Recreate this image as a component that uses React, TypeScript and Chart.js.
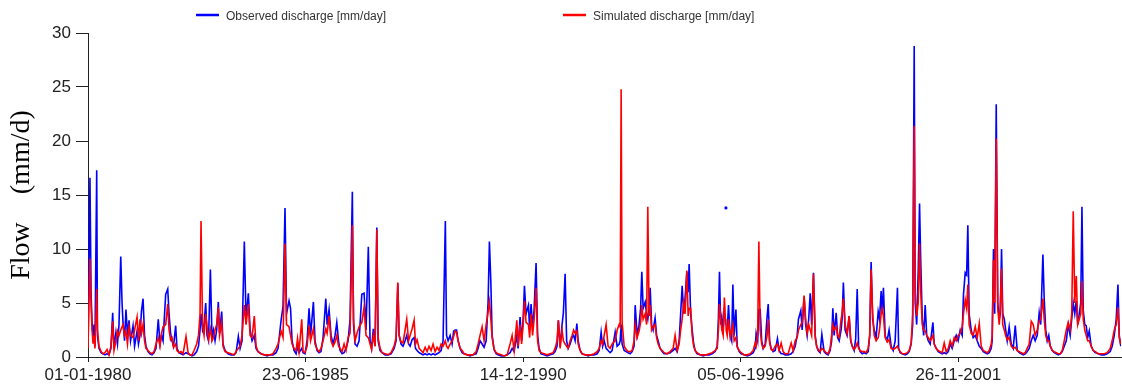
import React, { useEffect, useRef } from "react";
import { Chart, registerables } from "chart.js";

Chart.register(...registerables);

// ---- data (day index since 01-01-1980, daily discharge in mm/day) ----
const startDate = Date.UTC(1980, 0, 1);
const lastDay = 9496; // 31-12-2005
const xTickDays = [0, 2000, 4000, 6000, 8000];
const yMin = 0;
const yMax = 30;
const yStep = 5;

const seriesLabels = ["Observed discharge [mm/day]", "Simulated discharge [mm/day]"];
const yAxisTitle = "Flow    (mm/d)";

const days = [
  0, 18, 28, 37, 46, 55, 64, 80, 87, 101,
  120, 138, 156, 175, 193, 211, 227, 239, 257, 271,
  285, 301, 313, 322, 336, 349, 363, 377, 391, 414,
  428, 451, 464, 478, 492, 506, 520, 533, 552, 570,
  588, 607, 625, 646, 662, 676, 690, 714, 733, 745,
  759, 772, 786, 806, 818, 837, 855, 874, 901, 920,
  938, 956, 975, 999, 1016, 1030, 1039, 1053, 1067, 1082,
  1094, 1108, 1125, 1140, 1154, 1168, 1183, 1198, 1209, 1229,
  1241, 1260, 1287, 1315, 1342, 1361, 1382, 1398, 1416, 1437,
  1453, 1474, 1490, 1508, 1529, 1545, 1563, 1591, 1618, 1646,
  1673, 1701, 1729, 1747, 1775, 1793, 1811, 1825, 1848, 1862,
  1876, 1894, 1913, 1926, 1940, 1965, 1977, 1995, 2014, 2032,
  2046, 2072, 2087, 2106, 2124, 2142, 2161, 2186, 2198, 2216,
  2234, 2253, 2271, 2287, 2303, 2317, 2336, 2354, 2372, 2391,
  2409, 2430, 2441, 2455, 2473, 2492, 2517, 2538, 2556, 2577,
  2593, 2607, 2623, 2639, 2655, 2667, 2685, 2703, 2731, 2759,
  2786, 2814, 2832, 2848, 2860, 2878, 2896, 2915, 2930, 2947,
  2961, 2979, 2998, 3011, 3025, 3044, 3062, 3080, 3099, 3117,
  3135, 3154, 3172, 3191, 3209, 3227, 3246, 3264, 3285, 3296,
  3310, 3329, 3347, 3361, 3375, 3388, 3402, 3421, 3439, 3457,
  3485, 3512, 3540, 3568, 3586, 3604, 3623, 3641, 3660, 3678,
  3690, 3703, 3715, 3733, 3752, 3770, 3798, 3825, 3853, 3880,
  3899, 3917, 3942, 3954, 3972, 3986, 4000, 4012, 4027, 4049,
  4060, 4073, 4087, 4101, 4119, 4133, 4147, 4165, 4193, 4220,
  4248, 4276, 4294, 4312, 4324, 4340, 4358, 4370, 4386, 4400,
  4414, 4432, 4450, 4464, 4478, 4494, 4506, 4524, 4542, 4570,
  4598, 4625, 4653, 4680, 4699, 4717, 4731, 4745, 4763, 4781,
  4800, 4818, 4846, 4864, 4883, 4892, 4901, 4910, 4929, 4947,
  4965, 4984, 5002, 5020, 5030, 5048, 5066, 5080, 5091, 5103,
  5122, 5135, 5146, 5158, 5168, 5181, 5195, 5213, 5227, 5241,
  5259, 5278, 5296, 5324, 5351, 5379, 5397, 5416, 5434, 5448,
  5462, 5476, 5489, 5505, 5517, 5526, 5540, 5554, 5568, 5581,
  5600, 5627, 5655, 5683, 5710, 5738, 5765, 5784, 5795, 5805,
  5816, 5827, 5839, 5850, 5862, 5864, 5866, 5876, 5888, 5903,
  5917, 5928, 5940, 5956, 5968, 5986, 6004, 6032, 6060, 6087,
  6115, 6133, 6142, 6156, 6167, 6179, 6193, 6207, 6225, 6243,
  6253, 6266, 6280, 6298, 6317, 6338, 6353, 6372, 6390, 6408,
  6436, 6464, 6482, 6501, 6519, 6531, 6553, 6565, 6583, 6597,
  6611, 6625, 6639, 6652, 6669, 6685, 6698, 6712, 6730, 6746,
  6767, 6786, 6804, 6822, 6836, 6847, 6859, 6878, 6891, 6905,
  6923, 6932, 6944, 6960, 6978, 6997, 7011, 7025, 7043, 7057,
  7071, 7084, 7098, 7117, 7135, 7153, 7172, 7186, 7199, 7213,
  7227, 7245, 7264, 7276, 7291, 7300, 7312, 7328, 7346, 7364,
  7383, 7402, 7420, 7441, 7452, 7466, 7485, 7512, 7531, 7549,
  7567, 7581, 7595, 7604, 7618, 7632, 7644, 7655, 7669, 7682,
  7696, 7710, 7724, 7742, 7767, 7779, 7797, 7816, 7834, 7852,
  7871, 7889, 7908, 7926, 7944, 7963, 7981, 7999, 8018, 8036,
  8048, 8064, 8077, 8088, 8100, 8119, 8137, 8156, 8174, 8193,
  8211, 8230, 8248, 8266, 8285, 8303, 8312, 8324, 8335, 8349,
  8363, 8377, 8386, 8398, 8409, 8423, 8436, 8450, 8468, 8487,
  8505, 8524, 8542, 8561, 8579, 8597, 8616, 8634, 8652, 8671,
  8689, 8707, 8726, 8744, 8758, 8778, 8790, 8804, 8818, 8832,
  8846, 8864, 8882, 8901, 8919, 8938, 8956, 8974, 8993, 9011,
  9029, 9043, 9057, 9071, 9085, 9098, 9112, 9126, 9137, 9149,
  9163, 9176, 9190, 9204, 9222, 9241, 9259, 9287, 9314, 9342,
  9369, 9397, 9415, 9434, 9452, 9468, 9480, 9494,
];

const observed: (number | null)[] = [
  1.0, 16.6, 6.0, 3.2, 2.0, 3.0, 1.0, 17.3, 2.0, 0.8,
  0.4, 0.3, 0.2, 0.3, 0.2, 0.8, 4.1, 0.8, 2.3, 1.2,
  3.0, 9.3, 5.0, 3.2, 1.5, 4.4, 2.0, 3.4, 1.5, 2.9,
  1.0, 2.4, 1.2, 2.0, 4.3, 5.4, 2.0, 1.0, 0.5, 0.3,
  0.2, 0.4, 0.8, 3.5, 1.2, 2.0, 1.5, 5.8, 6.3, 4.0,
  2.2, 1.5, 1.0, 2.9, 0.8, 0.4, 0.3, 0.2, 0.4, 0.3,
  0.2, 0.1, 0.2, 0.5, 1.0, 2.5, 4.0, 2.5, 3.0, 5.0,
  2.0, 1.5, 8.1, 1.8, 2.5, 1.5, 2.5, 5.1, 2.2, 4.2,
  1.2, 0.6, 0.3, 0.2, 0.2, 0.4, 1.9, 0.8, 1.5, 10.7,
  3.5, 5.9, 2.5, 1.5, 2.0, 0.8, 0.5, 0.3, 0.2, 0.1,
  0.2, 0.2, 0.4, 0.8, 3.4, 4.7, 13.8, 4.0, 5.2, 4.5,
  1.5, 0.6, 0.3, 1.0, 0.4, 0.8, 0.4, 0.3, 1.5, 4.5,
  2.0, 5.1, 1.5, 0.6, 0.4, 0.5, 1.8, 5.4, 3.0, 4.4,
  2.0, 1.2, 2.0, 3.2, 1.5, 0.6, 0.3, 0.4, 0.8, 1.5,
  3.5, 15.3, 3.0, 1.2, 1.0, 1.5, 5.8, 5.9, 2.5, 10.2,
  1.5, 0.8, 2.6, 1.0, 12.0, 1.5, 0.6, 0.4, 0.2, 0.2,
  0.3, 0.8, 1.5, 6.8, 2.0, 1.2, 1.0, 1.5, 2.0, 1.2,
  1.0, 1.6, 1.8, 0.8, 0.6, 0.4, 0.3, 0.2, 0.3, 0.2,
  0.3, 0.2, 0.3, 0.2, 0.3, 0.4, 0.6, 1.5, 12.6, 2.0,
  1.5, 2.0, 1.2, 2.4, 2.5, 2.5, 1.5, 0.8, 0.4, 0.3,
  0.2, 0.1, 0.2, 0.3, 0.8, 1.5, 1.2, 0.9, 1.5, 5.1,
  10.7, 7.0, 2.0, 0.7, 0.3, 0.2, 0.1, 0.1, 0.2, 0.4,
  0.8, 0.5, 2.0, 0.8, 3.7, 1.5, 3.5, 6.6, 4.0, 4.8,
  2.5, 4.9, 2.8, 4.4, 8.7, 2.0, 0.8, 0.3, 0.2, 0.1,
  0.2, 0.3, 0.5, 1.0, 3.4, 1.0, 3.0, 4.1, 7.7, 1.5,
  0.8, 1.2, 1.8, 2.0, 1.5, 3.1, 1.5, 0.6, 0.3, 0.2,
  0.1, 0.2, 0.2, 0.3, 0.6, 2.3, 1.0, 1.5, 0.8, 0.6,
  0.4, 0.6, 2.3, 1.0, 1.2, 1.5, 3.0, 1.2, 0.6, 0.5,
  0.4, 0.3, 0.5, 1.0, 4.8, 2.0, 3.0, 4.5, 7.9, 4.5,
  5.1, 4.0, 3.5, 4.5, 6.4, 3.0, 2.5, 3.6, 2.0, 1.5,
  0.8, 0.5, 0.3, 0.3, 0.4, 0.6, 0.8, 0.5, 1.5, 4.0,
  6.6, 4.0, 5.5, 7.9, 6.0, 8.6, 4.0, 2.5, 1.2, 0.6,
  0.3, 0.2, 0.1, 0.2, 0.2, 0.3, 0.5, 1.0, 3.5, 7.9,
  3.0, 3.7, 2.5, 4.6, null, 13.8, null, 2.5, 4.8, 2.0,
  1.5, 6.7, 2.0, 4.4, 1.0, 0.5, 0.3, 0.2, 0.1, 0.2,
  0.4, 0.8, 2.2, 1.5, 4.4, 4.4, 1.5, 0.8, 1.2, 3.8,
  4.9, 1.5, 0.8, 0.5, 0.6, 1.7, 0.6, 0.3, 0.3, 0.2,
  0.2, 0.3, 0.5, 1.0, 2.0, 3.5, 4.3, 2.5, 5.6, 3.0,
  2.0, 3.5, 5.9, 3.0, 7.8, 2.0, 1.0, 0.6, 0.4, 2.1,
  0.5, 0.3, 0.2, 0.6, 1.5, 4.5, 2.0, 4.1, 1.8, 1.5,
  2.5, 3.5, 6.9, 2.5, 2.0, 3.8, 1.5, 1.0, 0.6, 1.7,
  6.3, 1.0, 0.5, 0.3, 0.4, 0.3, 0.5, 2.0, 8.8, 3.5,
  2.5, 1.8, 4.2, 3.5, 6.1, 4.0, 6.4, 2.0, 1.5, 2.5,
  1.0, 0.6, 1.5, 6.4, 0.8, 0.4, 0.3, 0.2, 0.3, 0.5,
  1.2, 3.0, 28.8, 5.0, 3.0, 8.0, 14.2, 8.9, 3.5, 2.0,
  4.8, 2.0, 1.5, 1.2, 3.2, 1.2, 0.8, 0.5, 0.4, 0.3,
  0.4, 0.3, 0.5, 1.2, 0.8, 1.5, 2.0, 1.5, 2.5, 2.0,
  5.8, 7.8, 7.6, 12.2, 4.0, 2.5, 1.8, 2.0, 1.5, 1.0,
  0.8, 0.5, 0.4, 0.3, 0.4, 0.8, 1.5, 10.0, 4.0, 23.4,
  5.0, 3.5, 4.0, 10.0, 4.0, 3.5, 2.5, 1.5, 2.8, 1.2,
  0.8, 2.9, 0.6, 0.4, 0.3, 0.2, 0.3, 0.5, 0.8, 1.5,
  2.0, 1.5, 2.0, 4.1, 3.0, 9.5, 5.4, 2.5, 1.5, 2.0,
  1.0, 0.6, 0.4, 0.3, 0.2, 0.3, 0.5, 1.0, 1.5, 3.0,
  2.0, 3.5, 5.0, 4.0, 5.2, 3.0, 4.0, 5.0, 13.9, 4.3,
  3.0, 2.9, 1.8, 2.4, 1.0, 0.6, 0.4, 0.3, 0.2, 0.2,
  0.3, 0.5, 1.0, 2.0, 3.5, 6.7, 2.0, 1.0,
];

const simulated: number[] = [
  0.8, 9.1, 5.0, 2.5, 1.3, 2.0, 0.8, 6.3, 2.5, 1.0,
  0.5, 0.3, 0.4, 0.7, 0.2, 1.0, 3.3, 0.6, 1.5, 2.4,
  2.0, 2.5, 2.8, 3.0, 2.0, 2.4, 1.2, 2.8, 2.0, 1.8,
  2.5, 3.7, 1.5, 3.5, 2.2, 3.0, 1.5, 0.8, 0.6, 0.4,
  0.3, 0.5, 1.2, 1.8, 1.0, 2.2, 2.8, 3.0, 4.9, 2.5,
  1.6, 1.8, 0.9, 1.2, 0.6, 0.4, 0.5, 0.3, 1.9, 0.4,
  0.2, 0.2, 0.6, 1.2, 2.0, 4.0, 12.6, 3.0, 2.0, 4.0,
  2.8, 1.6, 2.6, 1.5, 1.8, 2.5, 3.0, 4.6, 2.0, 3.2,
  1.0, 0.5, 0.4, 0.3, 0.2, 0.5, 0.8, 1.0, 2.0, 4.8,
  3.0, 4.9, 2.0, 1.8, 3.8, 1.0, 0.5, 0.3, 0.2, 0.2,
  0.2, 0.3, 0.8, 1.2, 2.4, 1.8, 10.5, 3.0, 2.8, 2.0,
  1.2, 0.8, 0.6, 1.7, 0.5, 3.5, 0.5, 0.4, 1.0, 2.9,
  1.5, 2.6, 1.2, 0.7, 0.5, 0.8, 1.5, 2.6, 2.2, 3.8,
  1.5, 1.0, 1.4, 2.0, 1.0, 0.8, 0.5, 1.2, 0.6, 1.8,
  2.2, 12.2, 3.5, 1.5, 2.2, 2.8, 3.2, 4.6, 2.0, 1.8,
  1.2, 0.7, 2.0, 1.0, 11.8, 1.8, 0.8, 0.4, 0.3, 0.2,
  0.4, 1.0, 1.8, 6.9, 2.0, 1.4, 1.3, 2.5, 3.5, 1.5,
  2.0, 2.6, 3.4, 1.2, 1.6, 0.8, 0.6, 0.4, 0.9, 0.5,
  1.0, 0.6, 1.2, 0.5, 0.9, 0.6, 1.2, 1.0, 1.5, 1.0,
  0.8, 1.2, 1.5, 1.9, 2.4, 2.3, 1.5, 0.8, 0.6, 0.3,
  0.2, 0.2, 0.2, 0.5, 1.2, 2.0, 2.8, 1.5, 3.0, 4.2,
  5.1, 3.5, 1.8, 0.7, 0.4, 0.3, 0.2, 0.1, 0.2, 1.2,
  2.0, 0.6, 3.4, 1.0, 3.0, 1.2, 3.0, 5.2, 3.2, 3.0,
  1.8, 4.0, 2.0, 3.5, 6.4, 1.5, 0.6, 0.4, 0.3, 0.2,
  0.3, 0.4, 0.8, 1.5, 3.4, 0.8, 2.5, 1.5, 1.2, 1.0,
  0.8, 1.5, 2.0, 2.5, 2.2, 2.4, 1.2, 0.6, 0.3, 0.2,
  0.2, 0.2, 0.3, 0.5, 0.8, 1.5, 1.2, 2.0, 3.0, 1.0,
  0.8, 1.2, 1.5, 2.5, 3.0, 2.8, 24.8, 3.2, 1.0, 0.7,
  0.5, 0.5, 0.6, 1.5, 3.0, 1.8, 2.4, 3.2, 4.8, 3.5,
  4.0, 3.0, 13.9, 3.8, 4.8, 2.5, 2.8, 3.0, 1.8, 1.2,
  0.8, 0.6, 0.4, 0.3, 0.5, 0.8, 2.0, 0.6, 1.2, 2.5,
  3.5, 5.0, 4.0, 8.0, 3.8, 4.5, 4.5, 2.0, 1.0, 0.6,
  0.4, 0.2, 0.2, 0.2, 0.3, 0.4, 0.6, 0.8, 2.5, 4.9,
  3.5, 2.5, 2.0, 5.5, 3.0, 3.5, 2.5, 2.0, 3.5, 1.8,
  2.5, 3.0, 1.5, 1.8, 0.9, 0.6, 0.4, 0.2, 0.2, 0.3,
  0.6, 1.3, 1.0, 2.2, 10.7, 2.5, 1.2, 0.8, 1.0, 2.0,
  3.5, 1.3, 0.7, 0.6, 1.0, 1.2, 0.6, 1.3, 0.5, 0.3,
  0.3, 1.3, 0.6, 1.5, 1.8, 2.5, 3.0, 3.2, 5.7, 3.5,
  2.2, 3.0, 2.5, 2.0, 7.7, 1.8, 1.0, 0.7, 0.5, 0.8,
  0.6, 0.4, 0.3, 0.8, 2.0, 3.0, 2.5, 2.8, 2.0, 1.8,
  3.5, 4.0, 5.4, 3.0, 2.2, 3.8, 1.6, 1.0, 0.7, 0.9,
  1.3, 0.8, 0.6, 0.5, 0.5, 0.4, 0.8, 2.0, 8.1, 4.0,
  2.0, 1.5, 1.8, 2.5, 4.0, 4.5, 3.8, 1.8, 1.4, 1.6,
  0.8, 0.7, 0.8, 1.0, 0.7, 0.5, 0.3, 0.3, 0.4, 0.6,
  1.3, 4.0, 21.4, 6.0, 3.8, 5.0, 10.5, 6.0, 3.0, 2.5,
  2.4, 2.0, 1.8, 1.5, 2.0, 1.2, 0.8, 0.6, 0.5, 0.4,
  1.3, 0.5, 0.8, 1.5, 1.0, 1.8, 1.5, 2.0, 2.2, 2.8,
  4.0, 5.3, 4.5, 6.7, 3.0, 2.2, 2.0, 2.8, 1.8, 3.1,
  1.0, 0.6, 0.5, 0.4, 0.6, 1.2, 2.0, 9.0, 5.0, 20.2,
  4.5, 3.0, 4.5, 8.2, 3.0, 2.5, 2.0, 1.6, 1.8, 1.0,
  0.8, 0.9, 0.6, 0.5, 0.4, 0.3, 0.4, 0.8, 1.2, 3.3,
  3.0, 2.0, 2.5, 3.3, 3.5, 5.4, 3.5, 2.0, 1.5, 1.5,
  1.0, 0.6, 0.5, 0.4, 0.3, 0.3, 0.6, 1.5, 2.5, 3.2,
  2.5, 4.0, 13.5, 5.0, 7.5, 3.0, 3.5, 4.0, 7.0, 3.5,
  2.5, 2.0, 1.5, 1.5, 1.0, 0.6, 0.5, 0.3, 0.3, 0.3,
  0.4, 0.8, 1.5, 2.5, 3.0, 4.6, 1.8, 1.2,
];

function formatDay(dayIndex: number): string {
  const d = new Date(startDate + dayIndex * 86400000);
  const dd = String(d.getUTCDate()).padStart(2, "0");
  const mm = String(d.getUTCMonth() + 1).padStart(2, "0");
  return `${dd}-${mm}-${d.getUTCFullYear()}`;
}

const SANS = '"Liberation Sans", Arial, sans-serif';
const SERIF = '"Liberation Serif", "Times New Roman", serif';
const AXIS = "#222222";
const BLUE = "#0000ff";
const RED = "#ff0000";

const legendPlugin = {
  id: "topLegend",
  afterDraw(chart: any) {
    const ctx = chart.ctx;
    const items = [
      { x0: 196, x1: 219, tx: 226, color: BLUE, label: chart.data.datasets[1].label },
      { x0: 563, x1: 586, tx: 593, color: RED, label: chart.data.datasets[0].label },
    ];
    ctx.save();
    ctx.font = `12px ${SANS}`;
    ctx.textBaseline = "middle";
    ctx.textAlign = "left";
    for (const it of items) {
      ctx.strokeStyle = it.color;
      ctx.lineWidth = 2.5;
      ctx.beginPath();
      ctx.moveTo(it.x0, 15);
      ctx.lineTo(it.x1, 15);
      ctx.stroke();
      ctx.fillStyle = "#333333";
      ctx.fillText(it.label, it.tx, 17);
    }
    ctx.restore();
  },
};

export default function App() {
  const canvasRef = useRef<HTMLCanvasElement | null>(null);

  useEffect(() => {
    const canvas = canvasRef.current;
    if (!canvas) return;

    const obsPts = days.map((d, i) => ({ x: d, y: observed[i] }));
    const simPts = days.map((d, i) => ({ x: d, y: simulated[i] }));

    const chart = new Chart(canvas, {
      type: "line",
      data: {
        datasets: [
          {
            label: seriesLabels[1],
            data: simPts as any,
            borderColor: RED,
            borderWidth: 1.6,
            pointRadius: 0,
            tension: 0,
            order: 1,
          },
          {
            label: seriesLabels[0],
            data: obsPts as any,
            borderColor: BLUE,
            backgroundColor: BLUE,
            borderWidth: 1.6,
            pointBorderWidth: 0,
            pointBackgroundColor: BLUE,
            pointRadius: (c: any) => {
              const i = c.dataIndex;
              const isolated =
                observed[i] !== null &&
                observed[i - 1] === null &&
                observed[i + 1] === null;
              return isolated ? 1.6 : 0;
            },
            spanGaps: false,
            tension: 0,
            order: 2,
          },
        ],
      },
      options: {
        responsive: false,
        animation: false,
        events: [],
        layout: { padding: { left: 0, right: 1, top: 33, bottom: 0 } },
        plugins: {
          legend: { display: false },
          tooltip: { enabled: false },
        },
        scales: {
          x: {
            type: "linear",
            min: 0,
            max: lastDay,
            afterBuildTicks: (scale: any) => {
              scale.ticks = xTickDays.map((v) => ({ value: v }));
            },
            afterFit: (scale: any) => {
              scale.height = 32;
            },
            ticks: {
              autoSkip: false,
              maxRotation: 0,
              minRotation: 0,
              padding: 3,
              color: AXIS,
              font: { family: SANS, size: 17 },
              callback: (v: any) => formatDay(Number(v)),
            },
            grid: {
              display: true,
              drawOnChartArea: false,
              drawTicks: true,
              tickLength: 5,
              color: AXIS,
            },
            border: { display: true, color: AXIS, width: 1 },
          },
          y: {
            min: yMin,
            max: yMax,
            afterFit: (scale: any) => {
              scale.width = 88;
            },
            ticks: {
              stepSize: yStep,
              padding: 5,
              color: AXIS,
              font: { family: SANS, size: 17 },
            },
            grid: {
              display: true,
              drawOnChartArea: false,
              drawTicks: true,
              tickLength: 12,
              color: AXIS,
            },
            border: { display: true, color: AXIS, width: 1 },
            title: {
              display: true,
              text: yAxisTitle,
              color: "#000000",
              font: { family: SERIF, size: 28 },
              padding: { top: 5, bottom: 0 },
            },
          },
        },
      },
      plugins: [legendPlugin],
    });

    return () => chart.destroy();
  }, []);

  return (
    <div
      style={{
        position: "fixed",
        left: 0,
        top: 0,
        width: 1122,
        height: 389,
        background: "#ffffff",
      }}
    >
      <canvas ref={canvasRef} width={1122} height={389} style={{ display: "block" }} />
    </div>
  );
}
